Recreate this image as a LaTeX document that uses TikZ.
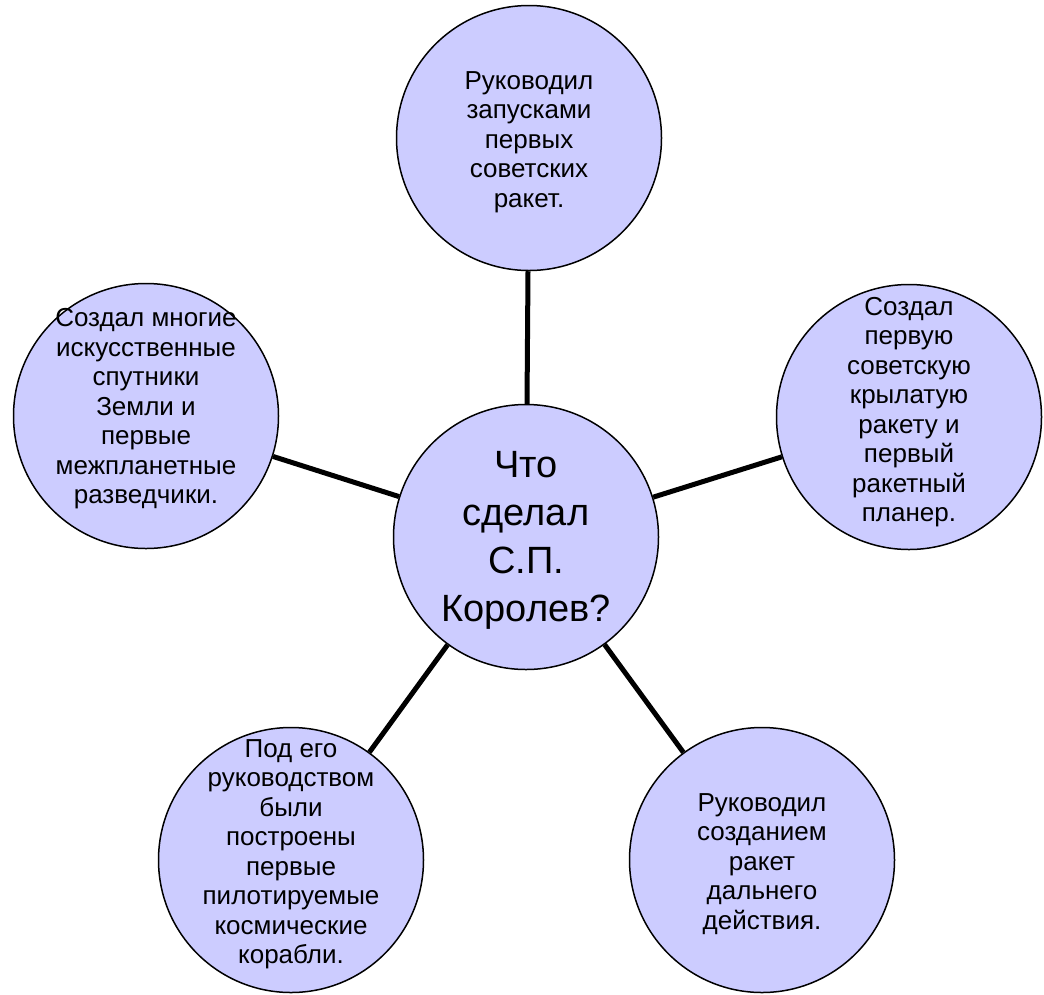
\documentclass[tikz,border=0pt]{standalone}
\usepackage{fontspec}
\setmainfont{Liberation Sans}
\definecolor{bubblefill}{HTML}{CCCCFF}
\begin{document}
\begin{tikzpicture}[x=1pt,y=-1pt,
  bubble/.style={circle, draw=black, line width=1.5pt, fill=bubblefill, minimum size=265pt, inner sep=0pt},
  smalltxt/.style={align=center, font=\fontsize{26}{29.5}\selectfont, inner sep=0pt},
  bigtxt/.style={align=center, font=\fontsize{38}{48}\selectfont, inner sep=0pt},
  link/.style={line width=5pt, draw=black}]
\useasboundingbox (0,0) rectangle (1044,994);
\node[bubble] (c) at (526,537) {};
\node[bubble] (t) at (529,138) {};
\node[bubble] (r) at (909,417) {};
\node[bubble] (l) at (146,416) {};
\node[bubble] (bl) at (291,860) {};
\node[bubble] (br) at (762,860) {};
\draw[link] (c) -- (t);
\draw[link] (c) -- (r);
\draw[link] (c) -- (l);
\draw[link] (c) -- (bl);
\draw[link] (c) -- (br);
\node[bigtxt] (ct) at (526,540) {Что\\сделал\\С.П.\\Королев?};
\node[smalltxt] (tt) at (529,142) {Руководил\\запусками\\первых\\советских\\ракет.};
\node[smalltxt] (rt) at (909,412) {Создал\\первую\\советскую\\крылатую\\ракету и\\первый\\ракетный\\планер.};
\node[smalltxt] (lt) at (146,409) {Создал многие\\искусственные\\спутники\\Земли и\\первые\\межпланетные\\разведчики.};
\node[smalltxt] (blt) at (291,854) {Под его\\руководством\\были\\построены\\первые\\пилотируемые\\космические\\корабли.};
\node[smalltxt] (brt) at (762,864) {Руководил\\созданием\\ракет\\дальнего\\действия.};
\end{tikzpicture}
\end{document}
